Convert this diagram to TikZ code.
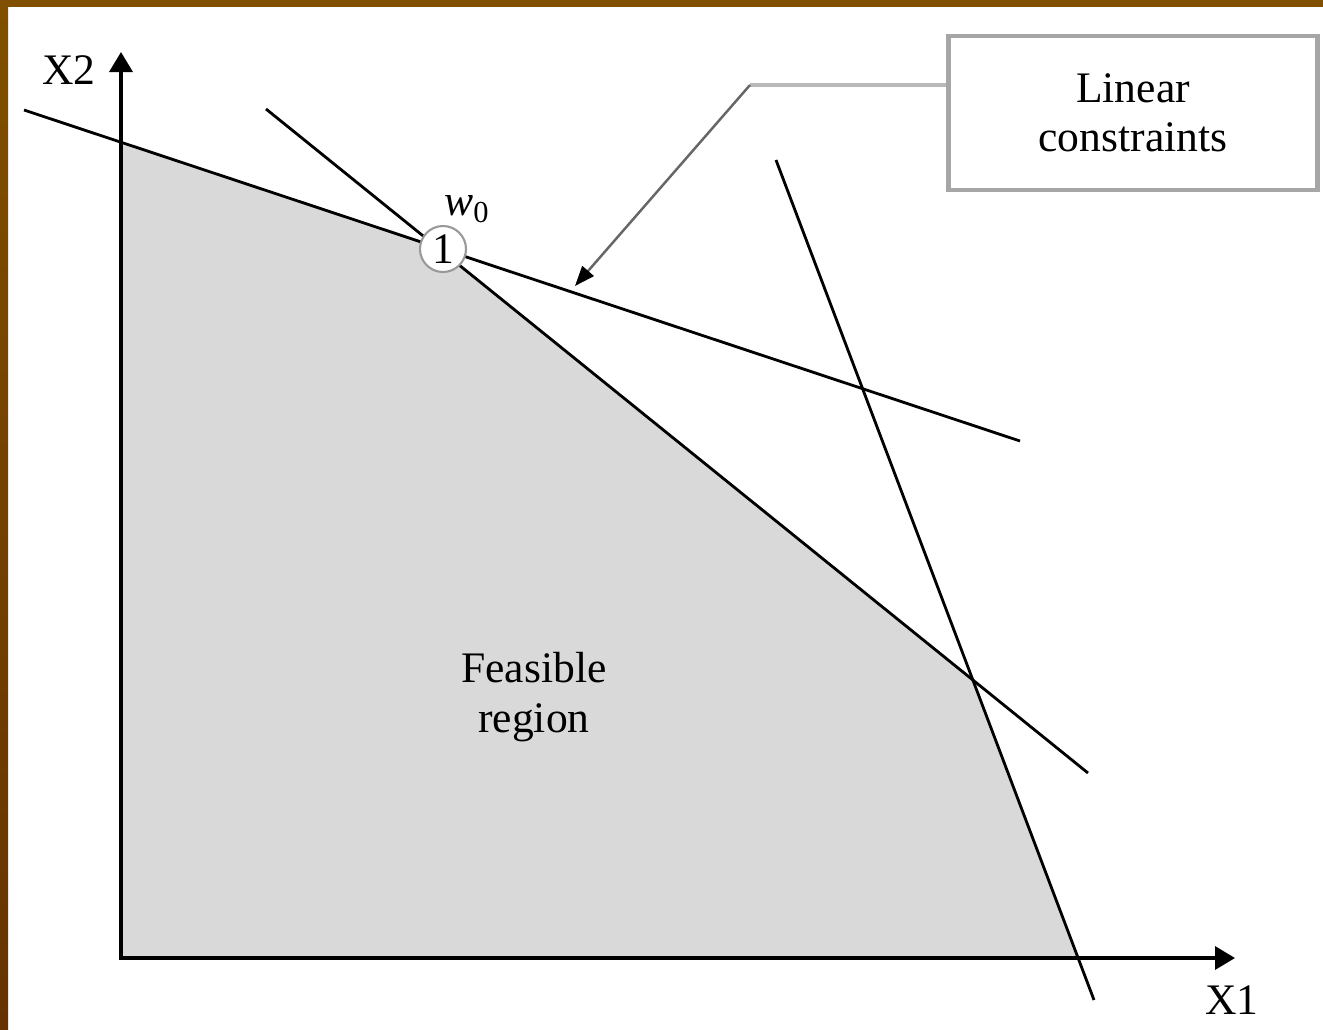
\documentclass[tikz,border=0pt]{standalone}
\usepackage{fontspec}
\setmainfont{Liberation Serif}
\usetikzlibrary{arrows.meta,intersections}
\definecolor{frametop}{HTML}{805000}
\definecolor{framebot}{HTML}{663300}
\definecolor{regiongray}{HTML}{D9D9D9}

\begin{document}
\begin{tikzpicture}[x=0.02cm, y=-0.02cm,
    every node/.style={font=\fontsize{24.8}{28}\selectfont},
    axis/.style={line width=2pt, -{Triangle[length=0.4cm,width=0.46cm]}},
    constraint/.style={line width=1.6pt},
    vertex/.style={circle, draw=gray!80, line width=1.2pt, fill=white, minimum size=0.92cm, inner sep=0pt},
    callout/.style={rectangle, draw=gray!70, line width=2.5pt, fill=white, minimum width=7.38cm, minimum height=3.08cm, align=center},
    pointerbar/.style={draw=gray!55, line width=2.6pt},
    pointer/.style={draw=gray!80!black, line width=1.4pt, -{Triangle[length=0.4cm,width=0.3cm,color=black]}}]

    \fill[white] (0,0) rectangle (1323,1029);
    \fill[frametop] (0,0) rectangle (1323,7);
    \shade[top color=frametop, bottom color=framebot] (0,0) rectangle (8,1029);

    \coordinate (origin) at (121,958);
    \coordinate (ytip) at (121,52);
    \coordinate (xtip) at (1235,958);
    \coordinate (a1) at (24,110);
    \coordinate (a2) at (1020,441);
    \coordinate (b1) at (266,109);
    \coordinate (b2) at (1088,773);
    \coordinate (c1) at (776,160);
    \coordinate (c2) at (1094,1000);

    \path[name path=yaxis] (origin) -- (ytip);
    \path[name path=xaxis] (origin) -- (xtip);
    \path[name path=lineA] (a1) -- (a2);
    \path[name path=lineB] (b1) -- (b2);
    \path[name path=lineC] (c1) -- (c2);
    \path[name intersections={of=lineA and yaxis, by=ya}];
    \path[name intersections={of=lineA and lineB, by=w}];
    \path[name intersections={of=lineB and lineC, by=bc}];
    \path[name intersections={of=lineC and xaxis, by=xc}];

    \fill[regiongray] (origin) -- (ya) -- (w) -- (bc) -- (xc) -- cycle;

    \draw[constraint] (a1) -- (a2);
    \draw[constraint] (b1) -- (b2);
    \draw[constraint] (c1) -- (c2);
    \draw[axis] (origin) -- (ytip);
    \draw[axis] ([xshift=-1pt]origin) -- (xtip);

    \node (x2) at (69,70) {X2};
    \node (x1) at (1232,1000) {X1};
    \node[align=center] (feasible) at (534,697) {Feasible\\region};
    \node[vertex] (w0) at (443,249) {1};
    \node (w0label) at (467,209) {\textit{w}\textsubscript{0}};

    \node[callout] (box) at (1133,113) {Linear\\constraints};
    \coordinate (bend) at (750,85);
    \coordinate (tip) at (575,286);
    \draw[pointerbar] (box.west |- bend) -- (bend);
    \draw[pointer] (bend) -- (tip);
\end{tikzpicture}
\end{document}
